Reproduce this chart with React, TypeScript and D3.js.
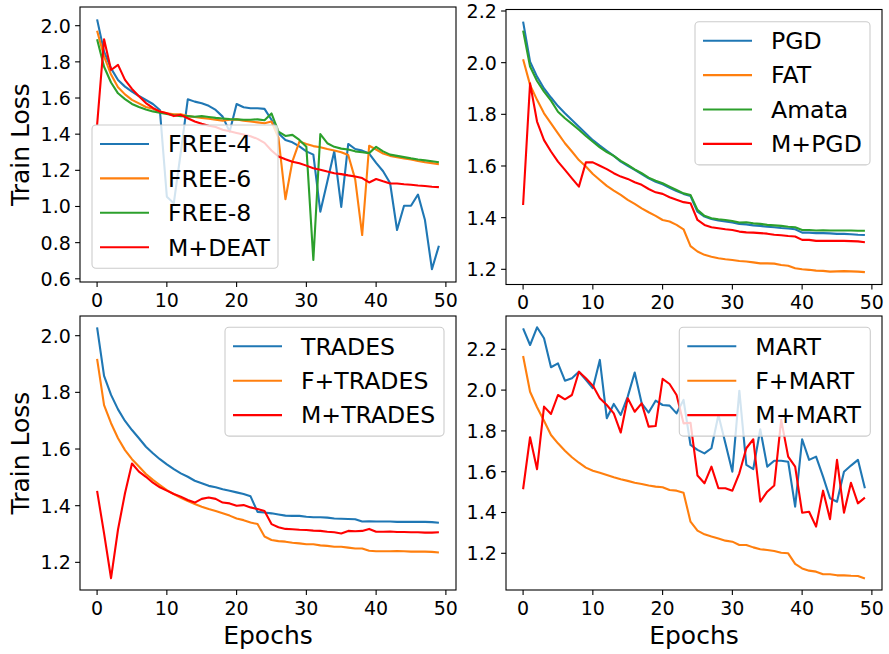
import React from "react";
import * as d3 from "d3";

// ---------- data ----------
const epochs = d3.range(0, 50);
const xTicks = [0, 10, 20, 30, 40, 50];

const free4 = [2.035,1.856,1.764,1.70,1.663,1.635,1.611,1.589,1.567,1.534,
  1.054,1.018,1.30,1.593,1.58,1.571,1.557,1.534,1.497,1.414,
  1.567,1.549,1.543,1.543,1.54,1.48,1.405,1.368,1.355,1.332,
  1.305,1.287,0.971,1.137,1.305,0.998,1.346,1.318,1.309,1.293,
  1.241,1.195,1.13,0.870,1.004,1.004,1.066,0.925,0.653,0.783];
const free6 = [1.972,1.83,1.73,1.66,1.62,1.59,1.57,1.55,1.54,1.525,
  1.515,1.51,1.51,1.50,1.495,1.49,1.485,1.48,1.475,1.48,
  1.482,1.475,1.47,1.465,1.46,1.47,1.38,1.04,1.25,1.359,
  1.346,1.334,1.328,1.318,1.31,1.30,1.285,1.15,0.842,1.336,
  1.315,1.293,1.28,1.273,1.265,1.26,1.252,1.245,1.24,1.234];
const free8 = [1.925,1.773,1.686,1.626,1.594,1.567,1.55,1.537,1.526,1.518,
  1.512,1.505,1.5,1.5,1.496,1.5,1.495,1.49,1.487,1.483,
  1.482,1.48,1.48,1.482,1.477,1.515,1.414,1.39,1.396,1.368,
  1.33,0.704,1.40,1.35,1.33,1.32,1.315,1.305,1.30,1.295,
  1.33,1.305,1.287,1.28,1.273,1.266,1.26,1.255,1.25,1.245];
const mdeat = [1.45,1.925,1.755,1.783,1.70,1.65,1.61,1.572,1.545,1.525,
  1.516,1.50,1.507,1.488,1.47,1.458,1.447,1.44,1.425,1.416,
  1.407,1.398,1.389,1.374,1.352,1.31,1.276,1.261,1.248,1.239,
  1.226,1.212,1.203,1.193,1.184,1.179,1.172,1.166,1.157,1.133,
  1.152,1.139,1.127,1.127,1.123,1.12,1.116,1.113,1.109,1.107];

const pgd = [2.159,2.004,1.946,1.90,1.865,1.832,1.804,1.778,1.752,1.726,
  1.70,1.679,1.659,1.639,1.617,1.601,1.585,1.569,1.552,1.539,
  1.529,1.516,1.503,1.492,1.484,1.423,1.404,1.395,1.389,1.385,
  1.381,1.376,1.374,1.37,1.368,1.365,1.363,1.36,1.358,1.355,
  1.342,1.342,1.34,1.34,1.339,1.337,1.337,1.336,1.334,1.333];
const fat = [2.013,1.914,1.856,1.804,1.765,1.726,1.688,1.656,1.623,1.598,
  1.569,1.546,1.523,1.505,1.488,1.469,1.453,1.436,1.421,1.407,
  1.391,1.385,1.372,1.355,1.29,1.269,1.256,1.249,1.243,1.239,
  1.236,1.232,1.23,1.227,1.223,1.223,1.222,1.217,1.214,1.204,
  1.2,1.198,1.195,1.194,1.191,1.192,1.193,1.192,1.191,1.189];
const amata = [2.124,1.985,1.929,1.888,1.853,1.81,1.785,1.763,1.74,1.716,
  1.694,1.672,1.654,1.639,1.62,1.604,1.587,1.572,1.555,1.543,
  1.533,1.52,1.507,1.494,1.488,1.43,1.407,1.398,1.394,1.391,
  1.387,1.381,1.382,1.378,1.376,1.372,1.37,1.368,1.365,1.363,
  1.352,1.352,1.35,1.351,1.35,1.35,1.35,1.35,1.349,1.349];
const mpgd = [1.449,1.92,1.772,1.70,1.656,1.617,1.585,1.552,1.52,1.614,
  1.614,1.601,1.588,1.572,1.559,1.55,1.537,1.527,1.511,1.498,
  1.492,1.479,1.469,1.46,1.456,1.391,1.372,1.363,1.359,1.355,
  1.352,1.346,1.343,1.342,1.34,1.338,1.334,1.332,1.329,1.327,
  1.314,1.314,1.31,1.31,1.31,1.31,1.31,1.309,1.308,1.305];

const trades = [2.029,1.858,1.791,1.74,1.699,1.667,1.638,1.608,1.585,1.564,
  1.546,1.529,1.514,1.502,1.488,1.479,1.47,1.465,1.458,1.453,
  1.447,1.441,1.433,1.378,1.376,1.373,1.369,1.365,1.364,1.364,
  1.361,1.359,1.359,1.358,1.355,1.354,1.353,1.352,1.344,1.345,
  1.344,1.344,1.344,1.343,1.343,1.343,1.343,1.343,1.342,1.34];
const ftrades = [1.918,1.755,1.691,1.638,1.596,1.564,1.538,1.512,1.491,1.473,
  1.455,1.441,1.428,1.416,1.406,1.396,1.388,1.381,1.373,1.365,
  1.355,1.349,1.341,1.335,1.291,1.279,1.275,1.273,1.269,1.267,
  1.264,1.264,1.26,1.258,1.255,1.255,1.252,1.249,1.249,1.241,
  1.239,1.239,1.239,1.24,1.239,1.238,1.238,1.238,1.237,1.235];
const mtrades = [1.452,1.302,1.144,1.316,1.444,1.549,1.52,1.502,1.481,1.465,
  1.453,1.441,1.432,1.42,1.411,1.424,1.429,1.424,1.411,1.408,
  1.40,1.402,1.394,1.388,1.381,1.335,1.324,1.318,1.317,1.315,
  1.314,1.312,1.311,1.308,1.306,1.302,1.311,1.31,1.311,1.318,
  1.308,1.308,1.309,1.307,1.307,1.306,1.306,1.305,1.305,1.306];

const mart = [2.303,2.221,2.308,2.254,2.112,2.131,2.046,2.058,2.09,2.05,
  2.009,2.148,1.862,1.932,1.878,1.968,2.086,1.935,1.89,1.948,
  1.927,1.924,1.886,1.952,1.731,1.707,1.69,1.715,1.878,1.739,
  1.60,1.997,1.633,1.613,1.808,1.625,1.654,1.654,1.649,1.429,
  1.759,1.658,1.674,1.576,1.47,1.453,1.60,1.63,1.658,1.519];
const fmart = [2.167,1.992,1.916,1.85,1.78,1.739,1.703,1.671,1.644,1.62,
  1.605,1.595,1.584,1.573,1.563,1.555,1.546,1.54,1.532,1.527,
  1.524,1.51,1.507,1.497,1.355,1.311,1.293,1.282,1.272,1.262,
  1.257,1.241,1.241,1.229,1.22,1.216,1.211,1.203,1.2,1.148,
  1.126,1.115,1.11,1.097,1.097,1.092,1.092,1.09,1.089,1.077];
const mmart = [1.514,1.769,1.612,1.919,1.883,1.976,1.955,1.976,2.09,2.058,
  2.022,1.96,1.927,1.886,1.792,1.96,1.894,1.935,1.821,1.824,
  2.055,2.03,1.976,1.837,1.84,1.581,1.543,1.625,1.519,1.519,
  1.507,1.592,1.715,1.759,1.453,1.502,1.532,1.854,1.674,1.625,
  1.399,1.404,1.331,1.507,1.367,1.658,1.399,1.546,1.445,1.473];

const yTicksTL = [0.6, 0.8, 1.0, 1.2, 1.4, 1.6, 1.8, 2.0];
const yTicksTR = [1.2, 1.4, 1.6, 1.8, 2.0, 2.2];
const yTicksBL = [1.2, 1.4, 1.6, 1.8, 2.0];
const yTicksBR = [1.2, 1.4, 1.6, 1.8, 2.0, 2.2];

// ---------- style ----------
const BLUE = "#1f77b4", ORANGE = "#ff7f0e", GREEN = "#2ca02c", RED = "#ff0000";
const FONT = "DejaVu Sans, Verdana, sans-serif";

const panels = [
  {
    box: [80, 7, 456, 282], yDomain: [0.5823, 2.1034], yTicks: yTicksTL,
    series: [
      { name: "FREE-4", data: free4, color: BLUE },
      { name: "FREE-6", data: free6, color: ORANGE },
      { name: "FREE-8", data: free8, color: GREEN },
      { name: "M+DEAT", data: mdeat, color: RED },
    ],
    legend: { x: 92, y: 125, w: 186 }, ylabel: true, xlabel: false,
  },
  {
    box: [506, 9.5, 882, 284.5], yDomain: [1.1412, 2.2058], yTicks: yTicksTR,
    series: [
      { name: "PGD", data: pgd, color: BLUE },
      { name: "FAT", data: fat, color: ORANGE },
      { name: "Amata", data: amata, color: GREEN },
      { name: "M+PGD", data: mpgd, color: RED },
    ],
    legend: { x: 695, y: 21.7, w: 175 }, ylabel: false, xlabel: false,
  },
  {
    box: [80, 316, 456, 590], yDomain: [1.1024, 2.0695], yTicks: yTicksBL,
    series: [
      { name: "TRADES", data: trades, color: BLUE },
      { name: "F+TRADES", data: ftrades, color: ORANGE },
      { name: "M+TRADES", data: mtrades, color: RED },
    ],
    legend: { x: 225, y: 327.3, w: 219 }, ylabel: true, xlabel: true,
  },
  {
    box: [506, 316, 882, 590], yDomain: [1.0201, 2.3632], yTicks: yTicksBR,
    series: [
      { name: "MART", data: mart, color: BLUE },
      { name: "F+MART", data: fmart, color: ORANGE },
      { name: "M+MART", data: mmart, color: RED },
    ],
    legend: { x: 679.3, y: 327.3, w: 191 }, ylabel: false, xlabel: true,
  },
];

const fmt = d3.format(".1f");

function Panel({ p, idx }: { p: any; idx: number }) {
  const [x0, y0, x1, y1] = p.box;
  const x = d3.scaleLinear().domain([-2.45, 51.45]).range([x0, x1]);
  const y = d3.scaleLinear().domain(p.yDomain).range([y1, y0]);
  const line = d3.line<number>().x((_, i) => x(epochs[i])).y((d) => y(d));
  const rowH = 34.4;
  const lg = p.legend;
  const lgH = 19 + rowH * (p.series.length - 1) + 21;
  const clipId = `clip${idx}`;
  return (
    <g>
      <defs>
        <clipPath id={clipId}>
          <rect x={x0} y={y0} width={x1 - x0} height={y1 - y0} />
        </clipPath>
      </defs>
      <g clipPath={`url(#${clipId})`}>
        {p.series.map((s: any) => (
          <path key={s.name} d={line(s.data) || ""} fill="none" stroke={s.color}
            strokeWidth={2.1} strokeLinejoin="round" strokeLinecap="butt" />
        ))}
      </g>
      <rect x={x0} y={y0} width={x1 - x0} height={y1 - y0} fill="none" stroke="#000" strokeWidth={1.1} />
      {xTicks.map((t) => (
        <g key={"x" + t}>
          <line x1={x(t)} x2={x(t)} y1={y1} y2={y1 + 4.9} stroke="#000" strokeWidth={1.1} />
          <text x={x(t)} y={y1 + 24.5} textAnchor="middle" fontSize={19} fontFamily={FONT} fill="#000">{t}</text>
        </g>
      ))}
      {p.yTicks.map((t: number) => (
        <g key={"y" + t}>
          <line x1={x0 - 4.9} x2={x0} y1={y(t)} y2={y(t)} stroke="#000" strokeWidth={1.1} />
          <text x={x0 - 9.2} y={y(t) + 7} textAnchor="end" fontSize={19} fontFamily={FONT} fill="#000">{fmt(t)}</text>
        </g>
      ))}
      {p.ylabel && (
        <text transform={`translate(28.5,${(y0 + y1) / 2}) rotate(-90)`} textAnchor="middle"
          fontSize={25} fontFamily={FONT} fill="#000">Train Loss</text>
      )}
      {p.xlabel && (
        <text x={(x0 + x1) / 2} y={644} textAnchor="middle" fontSize={25} fontFamily={FONT} fill="#000">Epochs</text>
      )}
      <g>
        <rect x={lg.x} y={lg.y} width={lg.w} height={lgH} rx={4} ry={4}
          fill="#fff" fillOpacity={0.8} stroke="#cccccc" strokeWidth={1.1} />
        {p.series.map((s: any, i: number) => {
          const ry = lg.y + 19 + i * rowH;
          return (
            <g key={"lg" + s.name}>
              <line x1={lg.x + 8} x2={lg.x + 57} y1={ry} y2={ry} stroke={s.color} strokeWidth={2.1} />
              <text x={lg.x + 76} y={ry + 8.3} fontSize={23.6} fontFamily={FONT} fill="#000">{s.name}</text>
            </g>
          );
        })}
      </g>
    </g>
  );
}

export default function App() {
  return (
    <svg width={889} height={654} style={{ position: "absolute", left: 0, top: 0, background: "#fff" }}>
      <rect x={0} y={0} width={889} height={654} fill="#fff" />
      {panels.map((p, i) => <Panel key={i} p={p} idx={i} />)}
    </svg>
  );
}
